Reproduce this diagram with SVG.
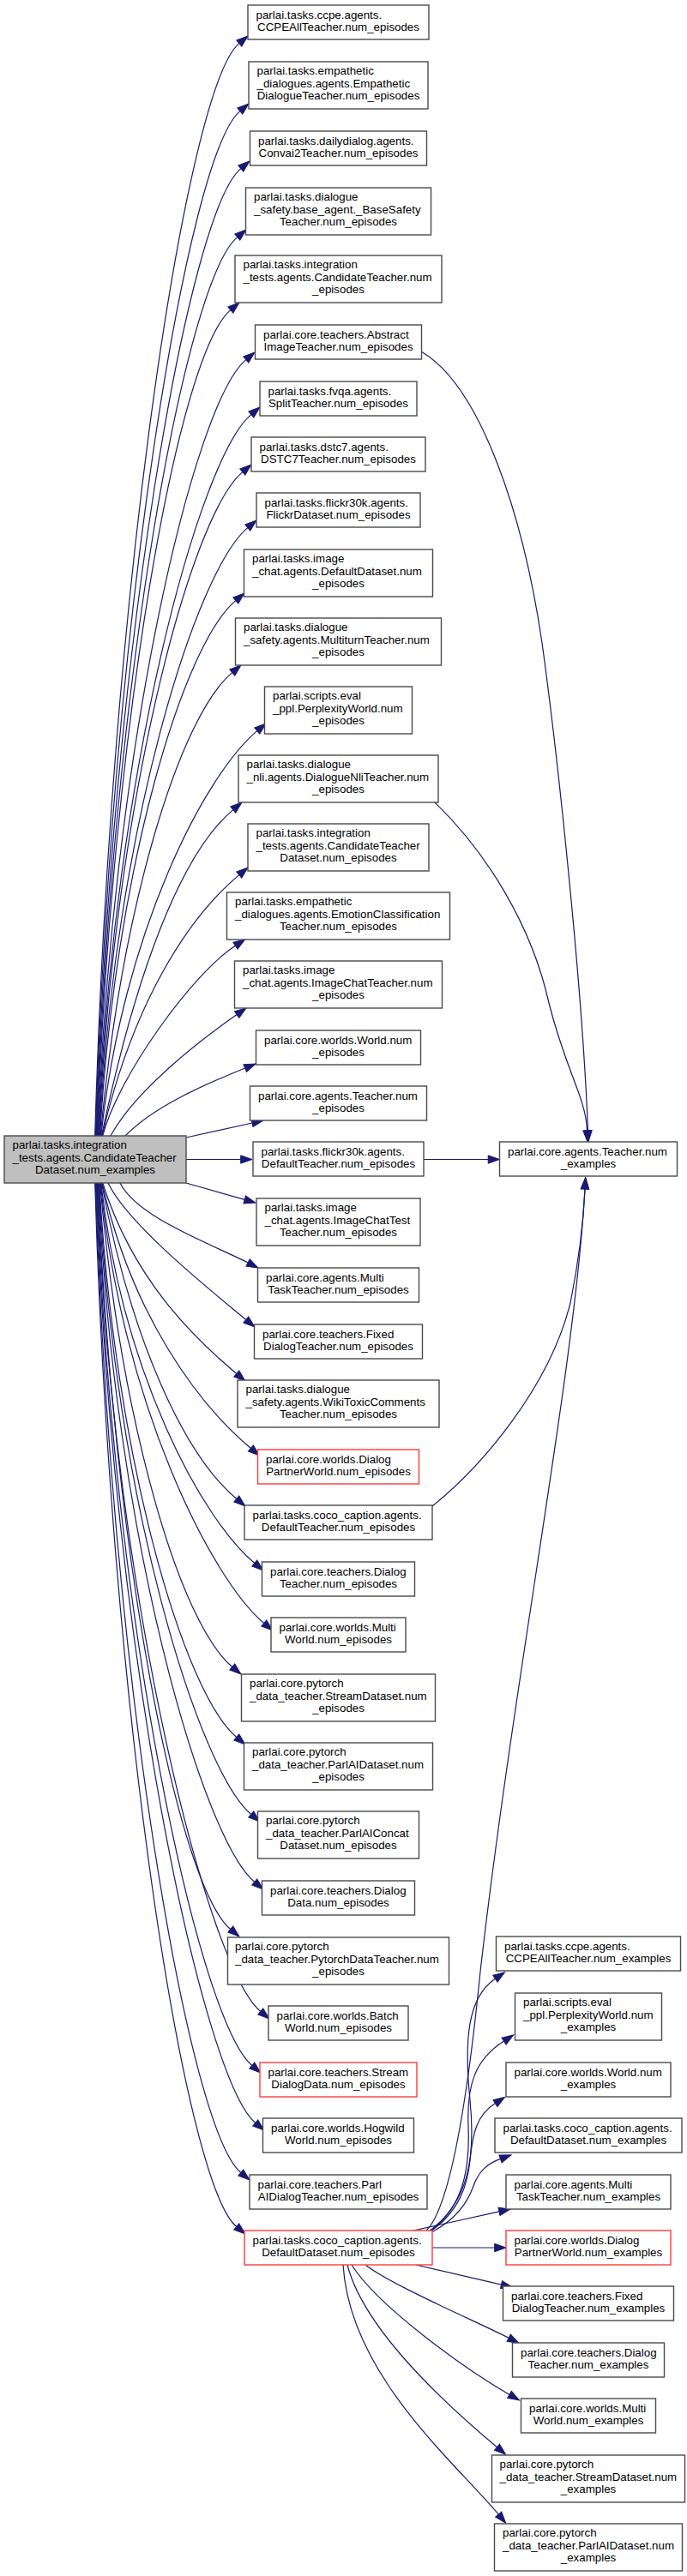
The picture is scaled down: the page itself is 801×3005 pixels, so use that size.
<svg xmlns="http://www.w3.org/2000/svg" width="801" height="3005" viewBox="0 0 801 3005">
<style>
.n rect{fill:#fff;stroke:#4a4a4a;stroke-width:1.4}
.r rect{stroke:#ff3b3b}
.root rect{fill:#bfbfbf}
text{font-family:"Liberation Sans",Arial,Helvetica,sans-serif;font-size:13.33px;fill:#000}
.m{text-anchor:middle}
#edges path{fill:none;stroke:#191970;stroke-width:1.2;marker-end:url(#a)}
</style>
<defs>
<marker id="a" markerUnits="userSpaceOnUse" markerWidth="14" markerHeight="9.34" refX="0" refY="4.67" orient="auto" viewBox="0 0 14 9.34" overflow="visible"><path d="M0,0 L13.3,4.67 L0,9.34 z" fill="#191970" stroke="#191970" stroke-width="1"/></marker>
</defs>
<rect width="801" height="3005" fill="#fff"/>
<g id="edges">
<path d="M110.7,1325 C128.7,687.8 217.5,102 278.8,50.6"/>
<path d="M111.3,1325 C129.3,727.3 218.5,181 279.8,129.6"/>
<path d="M112,1325 C130,760.8 219.5,248 280.8,196.6"/>
<path d="M112.6,1325 C130.6,800.8 215.5,328 276.8,276.6"/>
<path d="M113.2,1325 C131.2,843.3 207.5,413 268.8,361.6"/>
<path d="M113.9,1325 C131.9,872.3 225.5,471 286.8,419.6"/>
<path d="M114.5,1325 C132.5,904.3 231.5,535 292.8,483.6"/>
<path d="M115.2,1325 C133.2,937.8 221.5,602 282.8,550.6"/>
<path d="M115.8,1325 C133.8,970.3 227.5,667 288.8,615.6"/>
<path d="M116.5,1325 C134.5,1012.8 213.5,752 274.8,700.6"/>
<path d="M117.1,1325 C142.1,1054.8 209.5,836 270.8,784.6"/>
<path d="M117.8,1325 C142.8,1088.8 238.5,904 299.8,852.6"/>
<path d="M118.4,1325 C158.4,1134.8 210.5,996 271.8,944.6"/>
<path d="M119,1325 C154,1172.8 217.5,1072 278.8,1020.6"/>
<path d="M119.7,1325 C138,1255 225,1135 274.4,1103.2"/>
<path d="M129,1325 C158,1272 231,1215 276.1,1183.6"/>
<path d="M146,1325 C180,1290 239.4,1264.8 285.7,1246"/>
<path d="M217,1327 L294,1310"/>
<path d="M217,1352.5 L280.7,1352.5"/>
<path d="M217,1380 L285.2,1399.4"/>
<path d="M140,1380 C160,1420 244.5,1450.3 289.1,1473"/>
<path d="M126,1380 C150,1430 252.3,1510.6 286.8,1539.5"/>
<path d="M119.7,1380 C154.7,1491.2 224.6,1559.5 275.8,1602.5"/>
<path d="M119,1380 C154,1534.8 231.1,1638.1 292.4,1689.5"/>
<path d="M118.4,1380 C153.4,1564.2 214.5,1697.1 275.8,1748.5"/>
<path d="M117.8,1380 C142.8,1601.8 235.5,1772.1 296.8,1823.5"/>
<path d="M117.1,1380 C142.1,1636.8 246.5,1842.1 307.8,1893.5"/>
<path d="M116.5,1380 C141.5,1662.2 209.5,1893.1 270.8,1944.5"/>
<path d="M115.8,1380 C133.8,1703.2 214.5,1975.1 275.8,2026.5"/>
<path d="M115.2,1380 C133.2,1748.2 231.5,2065.1 292.8,2116.5"/>
<path d="M114.5,1380 C132.5,1787.8 235.5,2144.1 296.8,2195.5"/>
<path d="M113.9,1380 C131.9,1815.2 207.5,2199.1 268.8,2250.5"/>
<path d="M113.2,1380 C131.2,1863.2 242.5,2295.1 303.8,2346.5"/>
<path d="M112.6,1380 C130.6,1894.8 232.5,2358.1 293.8,2409.5"/>
<path d="M112,1380 C130,1928.2 236.5,2425.1 297.8,2476.5"/>
<path d="M111.3,1380 C129.3,1957.2 219.5,2483.1 280.8,2534.5"/>
<path d="M110.7,1380 C128.7,1988.8 214.5,2546.1 275.8,2597.5"/>
<path d="M494,1352.5 L569.2,1352.5"/>
<path d="M491,410 C560,450 610,600 632,750 C650,880 679,1150 685.5,1318.7"/>
<path d="M507,936 C568,995 620,1080 640,1170 C660,1250 683,1280 684.5,1318.7"/>
<path d="M504,1757 C560,1712 640,1620 665,1520 C674,1475 680,1430 682,1387"/>
<path d="M497,2602 C525,2575 545,2450 560,2300 C600,1950 670,1600 682,1387"/>
<path d="M500,2603 C545,2570 555,2520 548,2450 C541,2380 545,2330 577.4,2308.2"/>
<path d="M501,2603 C540,2575 548,2530 546,2480 C544,2430 555,2402 587.5,2381.1"/>
<path d="M502,2603 C535,2580 545,2550 548,2520 C551,2490 555,2468 577.4,2453.6"/>
<path d="M503,2604 C530,2590 545,2570 552,2550 C558,2533 568,2524 583.5,2518.4"/>
<path d="M482,2602 L582,2579.9"/>
<path d="M504,2622 L576.7,2622"/>
<path d="M484.6,2642 L584.5,2665.2"/>
<path d="M426,2642 C455,2665 557.6,2709.1 593.2,2727.3"/>
<path d="M410,2642 C440,2690 542,2763.4 594,2793.4"/>
<path d="M405,2642 C425,2720 525.9,2809.8 579.5,2854.8"/>
<path d="M400,2642 C408,2770 529.8,2871.8 581.2,2933.1"/>
</g>
<g id="root" class="n root"><rect x="5" y="1325" width="212" height="55"/><text x="14.5" y="1340">parlai.tasks.integration</text><text x="14.5" y="1354.7">_tests.agents.CandidateTeacher</text><text class="m" x="111" y="1369.3">Dataset.num_examples</text></g>
<g id="n1" class="n"><rect x="289" y="6" width="211" height="40"/><text x="298.5" y="21.5">parlai.tasks.ccpe.agents.</text><text class="m" x="394.5" y="36.3">CCPEAllTeacher.num_episodes</text></g>
<g id="n2" class="n"><rect x="290" y="72" width="209" height="55"/><text x="299.5" y="87">parlai.tasks.empathetic</text><text x="299.5" y="101.7">_dialogues.agents.Empathetic</text><text class="m" x="394.5" y="116.3">DialogueTeacher.num_episodes</text></g>
<g id="n3" class="n"><rect x="291.5" y="153" width="206" height="40"/><text x="301" y="168.5">parlai.tasks.dailydialog.agents.</text><text class="m" x="394.5" y="183.3">Convai2Teacher.num_episodes</text></g>
<g id="n4" class="n"><rect x="286.5" y="219" width="216" height="55"/><text x="296" y="234">parlai.tasks.dialogue</text><text x="296" y="248.7">_safety.base_agent._BaseSafety</text><text class="m" x="394.5" y="263.3">Teacher.num_episodes</text></g>
<g id="n5" class="n"><rect x="274" y="298" width="241" height="55"/><text x="283.5" y="313">parlai.tasks.integration</text><text x="283.5" y="327.7">_tests.agents.CandidateTeacher.num</text><text class="m" x="394.5" y="342.3">_episodes</text></g>
<g id="n6" class="n"><rect x="297.5" y="379" width="194" height="40"/><text x="307" y="394.5">parlai.core.teachers.Abstract</text><text class="m" x="394.5" y="409.3">ImageTeacher.num_episodes</text></g>
<g id="n7" class="n"><rect x="303" y="445" width="183" height="40"/><text x="312.5" y="460.5">parlai.tasks.fvqa.agents.</text><text class="m" x="394.5" y="475.3">SplitTeacher.num_episodes</text></g>
<g id="n8" class="n"><rect x="293" y="510" width="203" height="40"/><text x="302.5" y="525.5">parlai.tasks.dstc7.agents.</text><text class="m" x="394.5" y="540.3">DSTC7Teacher.num_episodes</text></g>
<g id="n9" class="n"><rect x="299" y="575" width="191" height="40"/><text x="308.5" y="590.5">parlai.tasks.flickr30k.agents.</text><text class="m" x="394.5" y="605.3">FlickrDataset.num_episodes</text></g>
<g id="n10" class="n"><rect x="284.5" y="641" width="220" height="55"/><text x="294" y="656">parlai.tasks.image</text><text x="294" y="670.7">_chat.agents.DefaultDataset.num</text><text class="m" x="394.5" y="685.3">_episodes</text></g>
<g id="n11" class="n"><rect x="274.5" y="721" width="240" height="55"/><text x="284" y="736">parlai.tasks.dialogue</text><text x="284" y="750.7">_safety.agents.MultiturnTeacher.num</text><text class="m" x="394.5" y="765.3">_episodes</text></g>
<g id="n12" class="n"><rect x="308.5" y="801" width="172" height="55"/><text x="318" y="816">parlai.scripts.eval</text><text x="318" y="830.7">_ppl.PerplexityWorld.num</text><text class="m" x="394.5" y="845.3">_episodes</text></g>
<g id="n13" class="n"><rect x="278" y="881" width="233" height="55"/><text x="287.5" y="896">parlai.tasks.dialogue</text><text x="287.5" y="910.7">_nli.agents.DialogueNliTeacher.num</text><text class="m" x="394.5" y="925.3">_episodes</text></g>
<g id="n14" class="n"><rect x="289" y="961" width="211" height="55"/><text x="298.5" y="976">parlai.tasks.integration</text><text x="298.5" y="990.7">_tests.agents.CandidateTeacher</text><text class="m" x="394.5" y="1005.3">Dataset.num_episodes</text></g>
<g id="n15" class="n"><rect x="264.5" y="1041" width="260" height="55"/><text x="274" y="1056">parlai.tasks.empathetic</text><text x="274" y="1070.7">_dialogues.agents.EmotionClassification</text><text class="m" x="394.5" y="1085.3">Teacher.num_episodes</text></g>
<g id="n16" class="n"><rect x="273.5" y="1121" width="242" height="55"/><text x="283" y="1136">parlai.tasks.image</text><text x="283" y="1150.7">_chat.agents.ImageChatTeacher.num</text><text class="m" x="394.5" y="1165.3">_episodes</text></g>
<g id="n17" class="n"><rect x="298.5" y="1202" width="192" height="40"/><text x="308" y="1217.5">parlai.core.worlds.World.num</text><text class="m" x="394.5" y="1232.3">_episodes</text></g>
<g id="n18" class="n"><rect x="291.5" y="1267" width="206" height="40"/><text x="301" y="1282.5">parlai.core.agents.Teacher.num</text><text class="m" x="394.5" y="1297.3">_episodes</text></g>
<g id="n19" class="n"><rect x="295" y="1332" width="199" height="40"/><text x="304.5" y="1347.5">parlai.tasks.flickr30k.agents.</text><text class="m" x="394.5" y="1362.3">DefaultTeacher.num_episodes</text></g>
<g id="n20" class="n"><rect x="299" y="1398" width="191" height="55"/><text x="308.5" y="1413">parlai.tasks.image</text><text x="308.5" y="1427.7">_chat.agents.ImageChatTest</text><text class="m" x="394.5" y="1442.3">Teacher.num_episodes</text></g>
<g id="n21" class="n"><rect x="300.5" y="1479" width="188" height="40"/><text x="310" y="1494.5">parlai.core.agents.Multi</text><text class="m" x="394.5" y="1509.3">TaskTeacher.num_episodes</text></g>
<g id="n22" class="n"><rect x="296.5" y="1545" width="196" height="40"/><text x="306" y="1560.5">parlai.core.teachers.Fixed</text><text class="m" x="394.5" y="1575.3">DialogTeacher.num_episodes</text></g>
<g id="n23" class="n"><rect x="277" y="1610" width="235" height="55"/><text x="286.5" y="1625">parlai.tasks.dialogue</text><text x="286.5" y="1639.7">_safety.agents.WikiToxicComments</text><text class="m" x="394.5" y="1654.3">Teacher.num_episodes</text></g>
<g id="n24" class="n r"><rect x="300.5" y="1691" width="188" height="40"/><text x="310" y="1706.5">parlai.core.worlds.Dialog</text><text class="m" x="394.5" y="1721.3">PartnerWorld.num_episodes</text></g>
<g id="n25" class="n"><rect x="285" y="1756" width="219" height="40"/><text x="294.5" y="1771.5">parlai.tasks.coco_caption.agents.</text><text class="m" x="394.5" y="1786.3">DefaultTeacher.num_episodes</text></g>
<g id="n26" class="n"><rect x="305.5" y="1822" width="178" height="40"/><text x="315" y="1837.5">parlai.core.teachers.Dialog</text><text class="m" x="394.5" y="1852.3">Teacher.num_episodes</text></g>
<g id="n27" class="n"><rect x="316" y="1887" width="157" height="40"/><text x="325.5" y="1902.5">parlai.core.worlds.Multi</text><text class="m" x="394.5" y="1917.3">World.num_episodes</text></g>
<g id="n28" class="n"><rect x="281.5" y="1953" width="226" height="55"/><text x="291" y="1968">parlai.core.pytorch</text><text x="291" y="1982.7">_data_teacher.StreamDataset.num</text><text class="m" x="394.5" y="1997.3">_episodes</text></g>
<g id="n29" class="n"><rect x="284.5" y="2033" width="220" height="55"/><text x="294" y="2048">parlai.core.pytorch</text><text x="294" y="2062.7">_data_teacher.ParlAIDataset.num</text><text class="m" x="394.5" y="2077.3">_episodes</text></g>
<g id="n30" class="n"><rect x="300.5" y="2113" width="188" height="55"/><text x="310" y="2128">parlai.core.pytorch</text><text x="310" y="2142.7">_data_teacher.ParlAIConcat</text><text class="m" x="394.5" y="2157.3">Dataset.num_episodes</text></g>
<g id="n31" class="n"><rect x="305.5" y="2194" width="178" height="40"/><text x="315" y="2209.5">parlai.core.teachers.Dialog</text><text class="m" x="394.5" y="2224.3">Data.num_episodes</text></g>
<g id="n32" class="n"><rect x="265.5" y="2260" width="258" height="55"/><text x="274" y="2275">parlai.core.pytorch</text><text x="274" y="2289.7">_data_teacher.PytorchDataTeacher.num</text><text class="m" x="394.5" y="2304.3">_episodes</text></g>
<g id="n33" class="n"><rect x="313" y="2340" width="163" height="40"/><text x="322.5" y="2355.5">parlai.core.worlds.Batch</text><text class="m" x="394.5" y="2370.3">World.num_episodes</text></g>
<g id="n34" class="n r"><rect x="303" y="2406" width="183" height="40"/><text x="312.5" y="2421.5">parlai.core.teachers.Stream</text><text class="m" x="394.5" y="2436.3">DialogData.num_episodes</text></g>
<g id="n35" class="n"><rect x="306.5" y="2471" width="176" height="40"/><text x="316" y="2486.5">parlai.core.worlds.Hogwild</text><text class="m" x="394.5" y="2501.3">World.num_episodes</text></g>
<g id="n36" class="n"><rect x="291" y="2537" width="207" height="40"/><text x="300.5" y="2552.5">parlai.core.teachers.Parl</text><text class="m" x="394.5" y="2567.3">AIDialogTeacher.num_episodes</text></g>
<g id="n37" class="n r"><rect x="285" y="2602" width="219" height="40"/><text x="294.5" y="2617.5">parlai.tasks.coco_caption.agents.</text><text class="m" x="394.5" y="2632.3">DefaultDataset.num_episodes</text></g>
<g id="r0" class="n"><rect x="582.5" y="1332" width="207" height="40"/><text x="592" y="1347.5">parlai.core.agents.Teacher.num</text><text class="m" x="686" y="1362.3">_examples</text></g>
<g id="r1" class="n"><rect x="578.5" y="2259" width="215" height="40"/><text x="588" y="2274.5">parlai.tasks.ccpe.agents.</text><text class="m" x="686" y="2289.3">CCPEAllTeacher.num_examples</text></g>
<g id="r2" class="n"><rect x="600.5" y="2325" width="171" height="55"/><text x="610" y="2340">parlai.scripts.eval</text><text x="610" y="2354.7">_ppl.PerplexityWorld.num</text><text class="m" x="686" y="2369.3">_examples</text></g>
<g id="r3" class="n"><rect x="590" y="2406" width="192" height="40"/><text x="599.5" y="2421.5">parlai.core.worlds.World.num</text><text class="m" x="686" y="2436.3">_examples</text></g>
<g id="r4" class="n"><rect x="577" y="2471" width="218" height="40"/><text x="586.5" y="2486.5">parlai.tasks.coco_caption.agents.</text><text class="m" x="686" y="2501.3">DefaultDataset.num_examples</text></g>
<g id="r5" class="n"><rect x="590" y="2537" width="192" height="40"/><text x="599.5" y="2552.5">parlai.core.agents.Multi</text><text class="m" x="686" y="2567.3">TaskTeacher.num_examples</text></g>
<g id="r6" class="n r"><rect x="590" y="2602" width="192" height="40"/><text x="599.5" y="2617.5">parlai.core.worlds.Dialog</text><text class="m" x="686" y="2632.3">PartnerWorld.num_examples</text></g>
<g id="r7" class="n"><rect x="586.5" y="2667" width="199" height="40"/><text x="596" y="2682.5">parlai.core.teachers.Fixed</text><text class="m" x="686" y="2697.3">DialogTeacher.num_examples</text></g>
<g id="r8" class="n"><rect x="597.5" y="2733" width="177" height="40"/><text x="607" y="2748.5">parlai.core.teachers.Dialog</text><text class="m" x="686" y="2763.3">Teacher.num_examples</text></g>
<g id="r9" class="n"><rect x="607.5" y="2798" width="157" height="40"/><text x="617" y="2813.5">parlai.core.worlds.Multi</text><text class="m" x="686" y="2828.3">World.num_examples</text></g>
<g id="r10" class="n"><rect x="573.5" y="2864" width="225" height="55"/><text x="582.5" y="2879">parlai.core.pytorch</text><text x="582.5" y="2893.7">_data_teacher.StreamDataset.num</text><text class="m" x="686" y="2908.3">_examples</text></g>
<g id="r11" class="n"><rect x="576.5" y="2944" width="219" height="55"/><text x="586" y="2959">parlai.core.pytorch</text><text x="586" y="2973.7">_data_teacher.ParlAIDataset.num</text><text class="m" x="686" y="2988.3">_examples</text></g>
</svg>
